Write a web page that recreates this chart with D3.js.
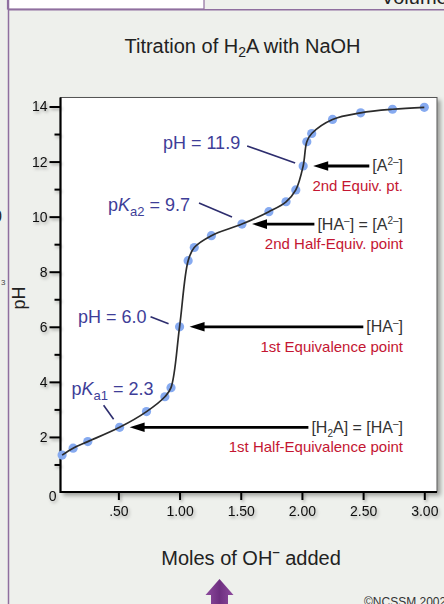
<!DOCTYPE html>
<html>
<head>
<meta charset="utf-8">
<script src="https://cdn.jsdelivr.net/npm/d3@7"></script>
<style>
  html, body { margin: 0; padding: 0; background: #eef0ec; overflow: hidden; }
  svg { display: block; font-family: "Liberation Sans", Arial, sans-serif; }
</style>
</head>
<body>
<svg id="chart" width="444" height="604"></svg>
<script>
// titration data
var moles = [0.04, 0.13, 0.25, 0.51, 0.73, 0.88, 0.93, 1.00, 1.07, 1.12, 1.26, 1.51, 1.73, 1.87, 1.95, 2.01, 2.04, 2.08, 2.25, 2.48, 2.74, 3.00];
var pHs   = [1.34, 1.59, 1.83, 2.35, 2.92, 3.46, 3.79, 6.00, 8.40, 8.88, 9.31, 9.73, 10.18, 10.54, 10.97, 11.84, 12.72, 13.02, 13.53, 13.77, 13.90, 13.97];

var xTicks = [0.5, 1.0, 1.5, 2.0, 2.5, 3.0];
var xTickLabels = [".50", "1.00", "1.50", "2.00", "2.50", "3.00"];
var yTicks = [0, 1, 2, 3, 4, 5, 6, 7, 8, 9, 10, 11, 12, 13, 14];

// index of point each annotation refers to
var notePoints = [15, 11, 7, 3];
var noteValues = ["pH = 11.9", "pKa2 = 9.7", "pH = 6.0", "pKa1 = 2.3"];
var noteSpecies = [["[A", "2\u2013", "]"], ["[HA", "\u2013", "] = [A", "2\u2013", "]"], ["[HA", "\u2013", "]"], ["[H", "2", "A] = [HA", "\u2013", "]"]];
var noteNames = ["2nd Equiv. pt.", "2nd Half-Equiv. point", "1st Equivalence point", "1st Half-Equivalence point"];

var svg = d3.select("#chart");

var defs = svg.append("defs");
var sh = defs.append("filter").attr("id", "shadow").attr("x", "-20%").attr("y", "-20%").attr("width", "140%").attr("height", "140%");
sh.append("feDropShadow").attr("dx", 1.5).attr("dy", 2).attr("stdDeviation", 1.5).attr("flood-color", "#000").attr("flood-opacity", 0.3);
var boxSh = defs.append("filter").attr("id", "boxshadow").attr("x", "-5%").attr("y", "-5%").attr("width", "110%").attr("height", "110%");
boxSh.append("feDropShadow").attr("dx", 3).attr("dy", 3).attr("stdDeviation", 2).attr("flood-color", "#000").attr("flood-opacity", 0.35);
var grad = defs.append("linearGradient").attr("id", "purple").attr("x1", 0).attr("x2", 1).attr("y1", 0).attr("y2", 0);
grad.append("stop").attr("offset", "0%").attr("stop-color", "#8e4c9e");
grad.append("stop").attr("offset", "50%").attr("stop-color", "#6e2f80");
grad.append("stop").attr("offset", "100%").attr("stop-color", "#8e4c9e");

// page frame bits from the screenshot
svg.append("rect").attr("x", 7.5).attr("y", -2).attr("width", 196.5).attr("height", 11).attr("fill", "#fff").attr("stroke", "#8f6f9f").attr("stroke-width", 1.2);
svg.append("line").attr("x1", 8.5).attr("x2", 444).attr("y1", 9.8).attr("y2", 9.8).attr("stroke", "#8f6f9f").attr("stroke-width", 1.5);
svg.append("line").attr("x1", 8.5).attr("x2", 8.5).attr("y1", 0).attr("y2", 604).attr("stroke", "#8f6f9f").attr("stroke-width", 1.5);
svg.append("text").attr("x", 381).attr("y", 4).attr("font-size", 20).attr("fill", "#222").text("Volume");
svg.append("text").attr("x", -7).attr("y", 222).attr("font-size", 16).attr("fill", "#222").text("0");
svg.append("text").attr("x", 1).attr("y", 285).attr("font-size", 8).attr("fill", "#444").text("3");

var x = d3.scaleLinear().domain([0, 3]).range([57.2, 424.3]);
var y = d3.scaleLinear().domain([0, 14]).range([492, 106.5]);

var plotLeft = 60.5, plotTop = 97.5, plotRight = 437, plotBottom = 492;

// white plot box
svg.append("rect")
  .attr("x", plotLeft).attr("y", plotTop)
  .attr("width", plotRight - plotLeft).attr("height", plotBottom - plotTop)
  .attr("fill", "#fff").attr("stroke", "#555").attr("stroke-width", 1)
  .attr("filter", "url(#boxshadow)");

// y axis
var yAxis = d3.axisLeft(y).tickValues(yTicks)
  .tickSize(0).tickPadding(4)
  .tickFormat(function(d) { return d % 2 === 0 ? d : ""; });
var gy = svg.append("g").attr("transform", "translate(" + plotLeft + ",0)").attr("filter", "url(#shadow)").call(yAxis);
gy.select(".domain").remove();
gy.selectAll(".tick line").attr("x2", function(d) { return d === 0 ? 0 : (d % 2 === 0 ? -11 : -6); })
  .attr("stroke", "#000").attr("stroke-width", 2);
gy.selectAll(".tick text").attr("font-size", 14).attr("fill", "#111")
  .attr("font-family", "Liberation Sans, Arial, sans-serif")
  .attr("dy", function(d) { return d === 0 ? "0.62em" : "0.32em"; })
  .attr("x", function(d) { return d === 0 ? -4 : -13; });

// x axis
var xAxis = d3.axisBottom(x).tickValues(xTicks).tickSize(8).tickPadding(6)
  .tickFormat(function(d, i) { return xTickLabels[i]; });
var gx = svg.append("g").attr("transform", "translate(0," + plotBottom + ")").attr("filter", "url(#shadow)").call(xAxis);
gx.select(".domain").remove();
gx.selectAll(".tick line").attr("stroke", "#000").attr("stroke-width", 2);
gx.selectAll(".tick text").attr("font-size", 14).attr("fill", "#111")
  .attr("font-family", "Liberation Sans, Arial, sans-serif");

// axis lines
svg.append("path")
  .attr("d", "M" + plotLeft + "," + plotTop + "V" + plotBottom + "H" + plotRight)
  .attr("fill", "none").attr("stroke", "#000").attr("stroke-width", 2.2);

// data points and curve
var pts = moles.map(function(m, i) { return [m, pHs[i]]; });
svg.append("g").selectAll("circle").data(pts).join("circle")
  .attr("cx", function(d) { return x(d[0]); })
  .attr("cy", function(d) { return y(d[1]); })
  .attr("r", 4.6)
  .attr("fill", "#86aaf0");

var line = d3.line()
  .x(function(d) { return x(d[0]); })
  .y(function(d) { return y(d[1]); })
  .curve(d3.curveCatmullRom.alpha(0.5));
svg.append("path").datum(pts).attr("d", line)
  .attr("fill", "none").attr("stroke", "#2b2b2b").attr("stroke-width", 1.7);

// blue value labels with leader lines (offsets from the point)
var valueLayout = [
  { tx: -63, ty: -17, l: [-56, -20, -8, -3] },
  { tx: -52, ty: -13, l: [-43, -21, -10, -7] },
  { tx: -33, ty: -4,  l: [-29, -10, -11, -3] },
  { tx: 34,  ty: -32, l: [-16, -22, -6, -8] }
];
var blue = "#3e3e98";
notePoints.forEach(function(pi, k) {
  var px = x(moles[pi]), py = y(pHs[pi]);
  var lay = valueLayout[k];
  svg.append("line")
    .attr("x1", px + lay.l[0]).attr("y1", py + lay.l[1])
    .attr("x2", px + lay.l[2]).attr("y2", py + lay.l[3])
    .attr("stroke", "#2d2d6e").attr("stroke-width", 1.6);
  var t = svg.append("text").attr("x", px + lay.tx).attr("y", py + lay.ty)
    .attr("text-anchor", "end").attr("font-size", 18).attr("fill", blue);
  var v = noteValues[k];
  if (v.indexOf("pKa") === 0) {
    t.append("tspan").text("p");
    t.append("tspan").attr("font-style", "italic").text("K");
    t.append("tspan").attr("font-size", 13).attr("dy", 5).text(v.slice(2, 4));
    t.append("tspan").attr("dy", -5).text(v.slice(4));
  } else {
    t.text(v);
  }
});

// species labels with arrows pointing back at the point
var labelRight = 403, tipGap = 10, headLen = 15, headHalf = 4.8;
notePoints.forEach(function(pi, k) {
  var px = x(moles[pi]), py = y(pHs[pi]);
  var t = svg.append("text").attr("x", labelRight).attr("y", py + 5.5)
    .attr("text-anchor", "end").attr("font-size", 16).attr("fill", "#333");
  noteSpecies[k].forEach(function(s, j) {
    var isScript = (j % 2 === 1);
    if (isScript) {
      var sup = s !== "2" || k !== 3;
      t.append("tspan").attr("font-size", 10)
        .attr("dy", sup ? -6 : 4).text(s);
    } else {
      var prev = j === 0 ? null : noteSpecies[k][j - 1];
      var back = prev === null ? 0 : ((prev !== "2" || k !== 3) ? 6 : -4);
      t.append("tspan").attr("dy", back).text(s);
    }
  });
  var start = labelRight - t.node().getComputedTextLength();
  var tip = px + tipGap;
  svg.append("line")
    .attr("x1", start - 3).attr("y1", py)
    .attr("x2", tip + headLen - 1).attr("y2", py)
    .attr("stroke", "#000").attr("stroke-width", 2.8);
  svg.append("path")
    .attr("d", "M" + tip + "," + py + "L" + (tip + headLen) + "," + (py - headHalf) +
      "L" + (tip + headLen) + "," + (py + headHalf) + "Z")
    .attr("fill", "#000");
  svg.append("text").attr("x", labelRight).attr("y", py + 25)
    .attr("text-anchor", "end").attr("font-size", 15).attr("fill", "#c41632")
    .text(noteNames[k]);
});

// titles
var title = svg.append("text").attr("x", 242.5).attr("y", 53).attr("text-anchor", "middle")
  .attr("font-size", 20).attr("fill", "#222");
title.append("tspan").text("Titration of H");
title.append("tspan").attr("font-size", 14).attr("dy", 4).text("2");
title.append("tspan").attr("dy", -4).text("A with NaOH");

var xl = svg.append("text").attr("x", 251).attr("y", 565).attr("text-anchor", "middle")
  .attr("font-size", 20).attr("fill", "#222");
xl.append("tspan").text("Moles of OH");
xl.append("tspan").attr("font-size", 13).attr("dy", -9).attr("font-weight", "bold").text("\u2013");
xl.append("tspan").attr("dy", 9).text(" added");

svg.append("text").attr("transform", "translate(25,298) rotate(-90)")
  .attr("text-anchor", "middle").attr("font-size", 18).attr("fill", "#222").text("pH");

// purple arrow and credit at the bottom
svg.append("path")
  .attr("d", "M219.5,579 L233.5,595 L228,595 L228,604 L211,604 L211,595 L205.5,595 Z")
  .attr("fill", "url(#purple)");
svg.append("text").attr("x", 364).attr("y", 606).attr("font-size", 12).attr("fill", "#333").text("\u00a9NCSSM 2002");
</script>
</body>
</html>
